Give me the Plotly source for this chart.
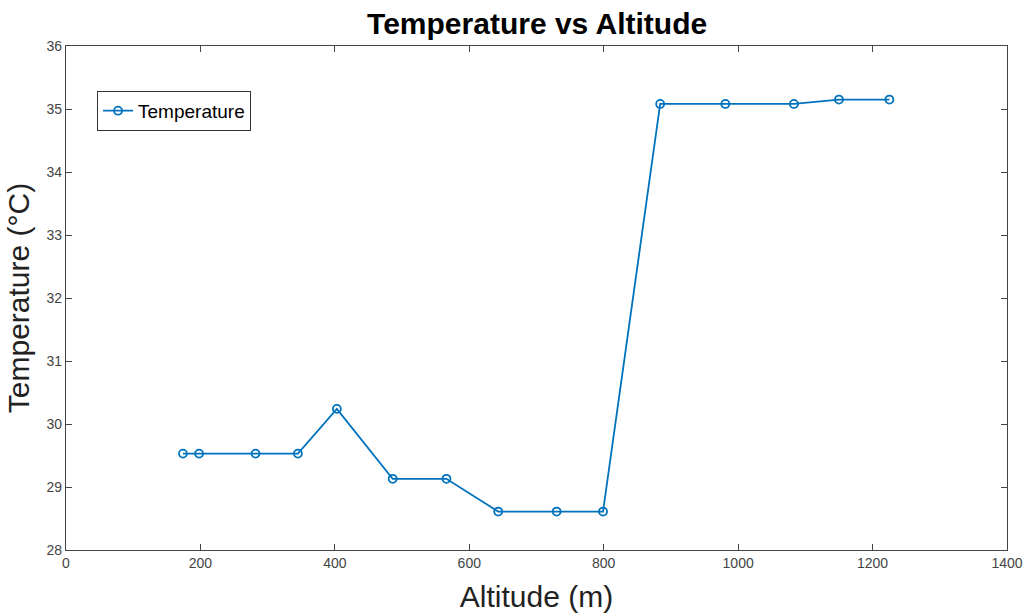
import plotly.graph_objects as go

# Altitude (m) and measured temperature (°C)
altitude = [174, 198, 282, 345, 403, 486, 566, 643, 730, 799, 884, 981, 1083, 1150, 1225]
temperature = [29.53, 29.53, 29.53, 29.53, 30.24, 29.13, 29.13, 28.61, 28.61, 28.61,
               35.08, 35.08, 35.08, 35.15, 35.15]

x_ticks = [0, 200, 400, 600, 800, 1000, 1200, 1400]
y_ticks = [28, 29, 30, 31, 32, 33, 34, 35, 36]

blue = "#0072BD"
font_family = "Liberation Sans, Arial, sans-serif"

fig = go.Figure()
fig.add_trace(go.Scatter(
    x=altitude, y=temperature, mode="lines+markers", name="Temperature",
    line=dict(color=blue, width=1.8),
    marker=dict(symbol="circle-open", size=8, color=blue, line=dict(width=1.8, color=blue)),
))

axis_common = dict(
    showgrid=False, zeroline=False, showline=True, linecolor="#444444", linewidth=1.2,
    mirror="ticks", ticks="inside", ticklen=6, tickcolor="#444444", tickwidth=1,
    tickfont=dict(family=font_family, size=14, color="#444444"),
    automargin=False,
)

fig.update_layout(
    width=1027, height=614,
    margin=dict(l=66, r=20, t=46, b=64),
    paper_bgcolor="white", plot_bgcolor="white",
    title=dict(text="<b>Temperature vs Altitude</b>", x=0.523, xanchor="center",
               y=0.962, yanchor="middle",
               font=dict(family=font_family, size=30, color="black")),
    xaxis=dict(range=[0, 1400], tickvals=x_ticks,
               title=dict(text="Altitude (m)", standoff=16,
                          font=dict(family=font_family, size=30, color="#222222")),
               **axis_common),
    yaxis=dict(range=[28, 36], tickvals=y_ticks,
               title=dict(text="Temperature (°C)", standoff=8,
                          font=dict(family=font_family, size=30, color="#222222")),
               **axis_common),
    legend=dict(x=0.033, y=0.911, xanchor="left", yanchor="top",
                bgcolor="white", bordercolor="#333333", borderwidth=1,
                font=dict(family=font_family, size=19, color="black"),
                itemwidth=30, tracegroupgap=0),
    showlegend=True,
)

fig.write_html("out.html")
